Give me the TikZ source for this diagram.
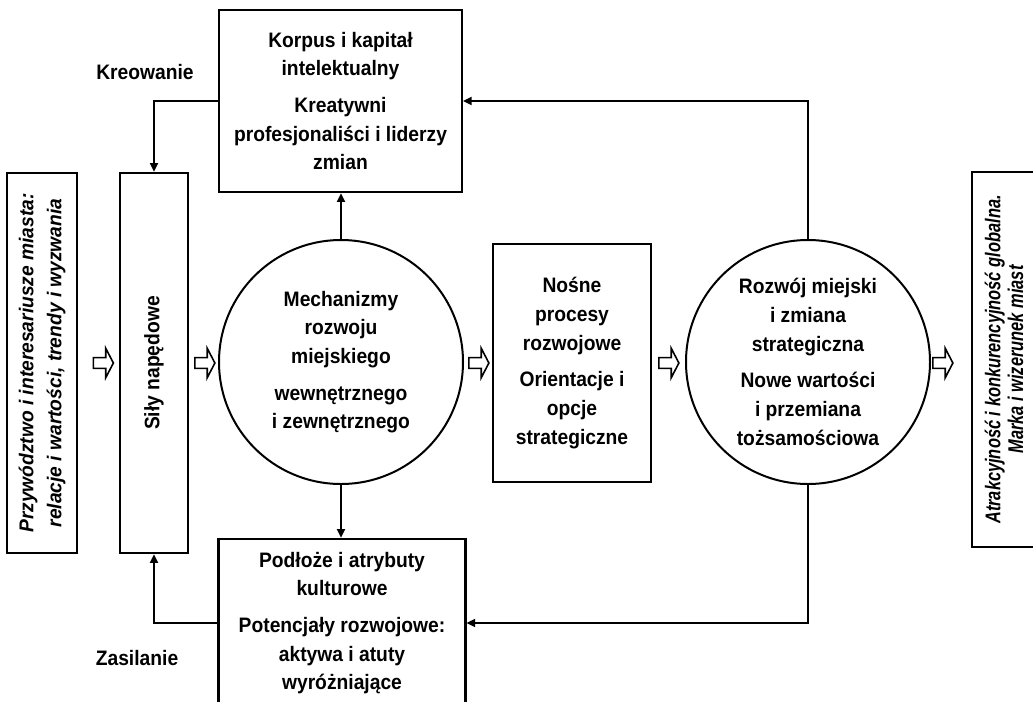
\documentclass[tikz,border=0pt]{standalone}
\usepackage{fontspec}
\setmainfont{Liberation Sans}[FakeStretch=0.92]
\newfontfamily\leadfont{Liberation Sans}[FakeStretch=0.96]
\newfontfamily\narrowfont{Liberation Sans}[FakeStretch=0.77]
\usetikzlibrary{positioning, shapes.arrows, arrows.meta}

\tikzset{
  txt/.style   = {align=center, inner sep=0pt,
                  font=\bfseries\fontsize{15.7}{21.5}\selectfont},
  box/.style   = {txt, draw, line width=1.8pt},
  round/.style = {txt, draw, circle, line width=1.5pt, minimum size=183pt},
  side/.style  = {box, rotate=90},
  conn/.style  = {line width=1.4pt, -{Triangle[length=6.5pt,width=6pt]}},
  open/.style  = {draw, fill=white, line width=1.2pt, single arrow,
                  single arrow tip angle=125, single arrow head extend=7pt,
                  minimum height=15pt, inner xsep=0pt, inner ysep=3.4pt},
}

\begin{document}
\begin{tikzpicture}[x=0.75pt, y=-0.75pt]
  \useasboundingbox (0,0) rectangle (1033,701);

  % ramki boczne
  \node (lead) [side, minimum width=285pt, minimum height=52.5pt,
                font=\leadfont\bfseries\itshape\fontsize{15}{21}\selectfont] at (42,363)
        {Przywództwo i interesariusze miasta:\\relacje i wartości, trendy i wyzwania};
  \node (sily) [side, minimum width=285pt, minimum height=51pt] at (154,363)
        {Siły napędowe};
  \node (atrak) [side, minimum width=281pt, minimum height=48pt,
                 font=\narrowfont\bfseries\itshape\fontsize{16}{17}\selectfont] at (1004,359.5)
        {Atrakcyjność i konkurencyjność globalna.\\Marka i wizerunek miast};

  % elementy srodkowe
  \node (mech) [round] at (341,362)
        {Mechanizmy\\rozwoju\\miejskiego\\[6pt]wewnętrznego\\i zewnętrznego};
  \node (nosne) [box, minimum width=118.5pt, minimum height=178.5pt] at (572,363)
        {Nośne\\procesy\\rozwojowe\\[6pt]Orientacje i\\opcje\\strategiczne};
  \node (rozwoj) [round] at (808,362)
        {Rozwój miejski\\i zmiana\\strategiczna\\[6pt]Nowe wartości\\i przemiana\\tożsamościowa};

  \node (korpus) [box, minimum width=182pt, minimum height=136.5pt] at (340.5,101)
        {Korpus i kapitał\\intelektualny\\[6pt]Kreatywni\\profesjonaliści i liderzy\\zmian};
  \node (podloze) [box, minimum width=185pt, minimum height=126pt] at (342,623)
        {Podłoże i atrybuty\\kulturowe\\[6pt]Potencjały rozwojowe:\\aktywa i atuty\\wyróżniające};

  \node (kreo) [txt] at (145,72) {Kreowanie};
  \node (zasi) [txt] at (137,658) {Zasilanie};

  % strzalki blokowe
  \node (s1) [open] at (102,363) {};
  \node (s2) [open] at (203.5,363) {};
  \node (s3) [open] at (477.5,363) {};
  \node (s4) [open] at (667.5,363) {};
  \node (s5) [open] at (941.5,363) {};

  % polaczenia
  \draw [conn] (korpus.west) -| (sily.east);
  \draw [conn] (podloze.west) -| (sily.west);
  \draw [conn] (mech.north) -- (mech.north |- korpus.south);
  \draw [conn] (mech.south) -- (mech.south |- podloze.north);
  \draw [conn] (rozwoj.north) |- (korpus.east);
  \draw [conn] (rozwoj.south) |- (podloze.east);
\end{tikzpicture}
\end{document}
